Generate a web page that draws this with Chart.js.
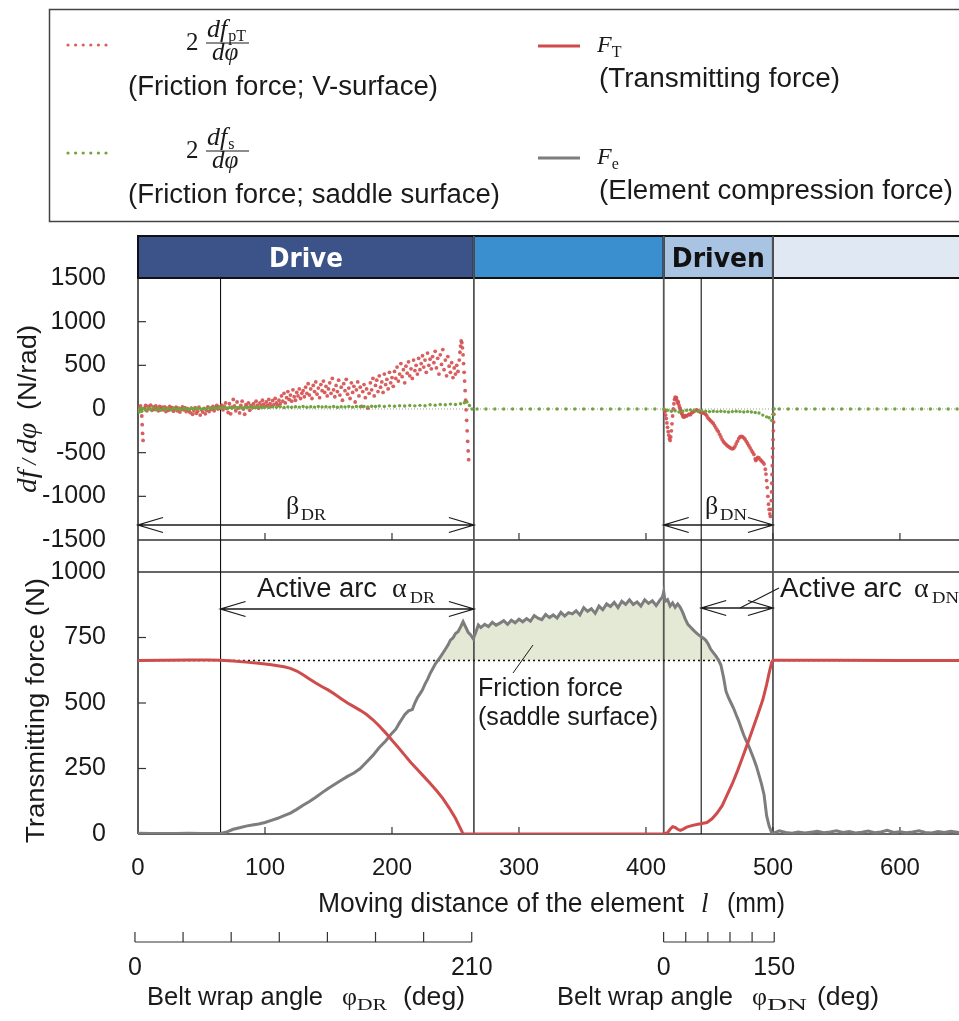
<!DOCTYPE html>
<html>
<head>
<meta charset="utf-8">
<script src="https://cdn.jsdelivr.net/npm/chart.js@4.4.1/dist/chart.umd.min.js"></script>
<style>
  html, body { margin: 0; padding: 0; background: #fff; overflow: hidden; }
  #wrap { position: relative; width: 959px; height: 1021px; }
</style>
</head>
<body>
<div id="wrap"><canvas id="chart" width="959" height="1021"></canvas></div>
<script>
// ---- data ----
const xTicks = [0, 100, 200, 300, 400, 500, 600];
const dfTicks = [-1500, -1000, -500, 0, 500, 1000, 1500];
const forceTicks = [0, 250, 500, 750, 1000];
const xMax = 646.5;

const phaseNames = ['Drive', '', 'Driven', ''];
const phaseBounds = [0, 264.5, 414, 500, xMax];
const markLines = [65, 264.5, 414, 443.5, 500];
const setLevel = 662;

// belt wrap angle scales (deg) and where they sit on the l axis (mm)
const wrapDR = { labels: ['0', '210'], steps: 7, from: -2.4, to: 262.8 };
const wrapDN = { labels: ['0', '150'], steps: 5, from: 413.9, to: 501 };

// transmitting force F_T (N)
const ftCurve = [
  [0,662],[20,663],[40,664],[55,664],[65,663],[75,660],[85,656],[95,652],[105,646],[115,638],
  [120,632],[125,622],[130,608],[135,592],[140,576],[145,562],[150,549],[155,533],[160,516],[165,500],
  [170,486],[175,472],[180,456],[185,436],[190,412],[195,386],[200,358],[205,330],[210,301],[215,272],
  [220,246],[225,220],[230,194],[235,166],[240,136],[245,100],[250,60],[253,30],[256,0],[300,0],
  [350,0],[414,0],[417,5],[419,18],[421,28],[423,25],[425,18],[427,14],[429,18],[432,26],
  [436,32],[440,36],[444,40],[448,44],[452,58],[456,80],[460,108],[464,150],[468,192],[472,240],
  [476,292],[480,345],[484,400],[488,455],[492,512],[495,570],[497,615],[499,655],[500,663],[550,663],
  [600,662],[646.5,662]
];

// element compression force F_e (N)
const feCurve = [
  [0,3],[10,2],[20,2],[30,2],[40,3],[50,2],[60,2],[65,2],[70,8],[75,18],
  [80,24],[85,30],[90,34],[95,38],[100,44],[105,52],[110,60],[115,70],[120,80],[125,94],
  [130,110],[135,124],[140,140],[145,158],[150,175],[155,190],[160,205],[165,220],[170,233],[175,250],
  [180,275],[185,300],[190,330],[195,355],[200,385],[203,400],[206,425],[208,440],[210,455],[213,470],
  [216,475],[218,500],[220,520],[222,535],[224,550],[226,572],[228,590],[230,612],[232,630],[234,648],
  [236,662],[238,675],[240,690],[242,705],[244,720],[246,740],[248,748],[250,765],[252,772],[254,790],
  [256,810],[258,790],[260,770],[262,760],[264,745],[266,770],[268,798],[270,788],[273,800],[276,792],
  [279,808],[282,797],[285,805],[288,814],[291,800],[294,816],[297,806],[300,820],[303,810],[306,822],
  [309,812],[312,834],[315,824],[318,818],[321,838],[324,826],[327,836],[330,824],[333,846],[336,832],
  [339,845],[342,840],[345,852],[348,836],[351,864],[354,850],[357,860],[360,842],[363,870],[366,856],
  [369,878],[372,868],[375,884],[378,864],[381,888],[384,876],[387,894],[390,876],[393,886],[396,870],
  [399,894],[402,880],[405,890],[408,872],[411,893],[413,905],[414,925],[415,888],[417,895],[419,870],
  [421,882],[423,865],[425,878],[427,865],[429,845],[431,820],[433,800],[435,790],[437,780],[439,770],
  [441,762],[443,755],[445,748],[447,740],[449,725],[451,705],[453,692],[455,680],[457,665],[459,645],
  [461,600],[463,545],[465,520],[467,500],[469,480],[471,455],[473,432],[475,405],[477,378],[479,355],
  [481,335],[483,310],[485,285],[487,258],[489,225],[491,190],[493,150],[495,70],[497,30],[499,5],
  [500,2],[505,12],[510,6],[515,3],[520,8],[525,4],[530,7],[535,10],[540,5],[545,8],
  [550,12],[555,6],[560,9],[565,4],[570,7],[575,11],[580,5],[585,8],[590,14],[595,6],
  [600,9],[605,5],[610,8],[615,12],[620,6],[625,4],[630,9],[635,6],[640,10],[646.5,6]
];

// 2 dfpT/dphi, friction force on the V-surface (N/rad), drive pulley
const vSurfDrive = [
  [0,20],[1,-10],[2,35],[3,-80],[3.3,-180],[3.6,-280],[4,-360],[5,10],[6,40],[7,-20],[8,30],[9,5],[10,45],
  [11,-15],[12,25],[13,-5],[14,35],[15,10],[16,-20],[17,30],[18,0],[19,20],[20,-10],
  [21,25],[22,-30],[23,10],[24,-15],[25,30],[26,-5],[27,15],[28,-25],[29,5],[30,20],
  [31,-20],[32,10],[33,-35],[34,0],[35,25],[36,-10],[37,15],[38,-30],[39,5],[40,-15],
  [41,-40],[42,10],[43,-60],[44,-20],[45,15],[46,-50],[47,-25],[48,20],[49,-70],[50,-10],
  [51,-35],[52,5],[53,-55],[54,-15],[55,25],[56,-30],[57,10],[58,-5],[59,30],[60,-20],
  [61,15],[62,40],[63,0],[64,25],[65,10],[66,45],[67,-10],[68,30],[69,70],[70,5],
  [71,-40],[72,60],[73,-55],[74,20],[75,110],[76,35],[77,-20],[78,80],[79,10],[80,-45],
  [81,40],[82,90],[83,0],[84,-60],[85,50],[86,25],[87,70],[88,-15],[89,40],[90,15],
  [91,60],[92,20],[93,90],[94,45],[95,10],[96,70],[97,35],[98,100],[99,55],[100,25],
  [101,80],[102,40],[103,110],[104,60],[105,30],[106,95],[107,50],[108,120],[109,70],[110,40],
  [111,100],[112,60],[113,150],[114,90],[115,180],[116,70],[117,130],[118,200],[119,110],[120,160],
  [121,90],[122,220],[123,140],[124,100],[125,190],[126,150],[127,230],[128,120],[129,180],[130,210],
  [131,140],[132,250],[133,180],[134,290],[135,160],[136,230],[137,120],[138,270],[139,200],[140,310],
  [141,170],[142,240],[143,130],[144,280],[145,210],[146,320],[147,190],[148,260],[149,150],[150,230],
  [151,300],[152,180],[153,350],[154,220],[155,140],[156,270],[157,200],[158,330],[159,160],[160,250],
  [161,100],[162,290],[163,210],[164,340],[165,170],[166,240],[167,120],[168,300],[169,190],[170,260],
  [171,80],[172,220],[173,310],[174,150],[175,250],[176,30],[177,200],[178,280],[179,130],[180,230],
  [181,10],[182,180],[183,300],[184,220],[185,350],[186,150],[187,270],[188,330],[189,200],[190,380],
  [191,250],[192,310],[193,190],[194,400],[195,280],[196,340],[197,230],[198,420],[199,300],[200,360],
  [201,260],[202,430],[203,350],[204,480],[205,320],[206,400],[207,520],[208,370],[209,450],[210,300],
  [211,490],[212,410],[213,540],[214,380],[215,460],[216,350],[217,560],[218,440],[219,500],[220,400],
  [221,580],[222,450],[223,520],[224,610],[225,480],[226,560],[227,420],[228,640],[229,500],[230,570],
  [231,460],[232,600],[233,530],[234,660],[235,470],[236,580],[237,400],[238,620],[239,510],[240,680],
  [241,450],[242,560],[243,380],[244,600],[245,490],[246,420],[247,530],[248,360],[249,470],[250,400],
  [251,500],[252,430],[253,560],[253.5,650],[254,720],[254.5,780],[255,760],[255.5,700],[256,620],
  [256.4,520],[256.8,420],[257.2,320],[257.6,210],[258,100],[258.4,-10],[258.8,-130],[259.2,-250],
  [259.6,-370],[260,-480],[260.4,-580]
];

// same quantity, driven pulley
const vSurfDriven = [
  [414.5,-10],[415,-30],[415.5,-70],[416,-110],[416.5,-160],[417,-210],[417.5,-260],[418,-300],
  [418.5,-340],[419,-360],[419.5,-320],[420,-250],[420.5,-170],[421,-80],[421.5,0],[422,60],
  [422.5,110],[423,137],[423.5,120],[424,130],[424.5,95],[425,70],[425.5,80],[426,45],[426.5,20],
  [427,0],[427.5,-20],[428,-45],[428.5,-60],[429,-80],[429.5,-92],[430,-85],[430.5,-90],[431,-75],
  [432,-80],[433,-70],[434,-60],[435,-65],[436,-45],[437,-35],[438,-25],[439,-15],[440,-10],
  [441,-20],[442,-30],[443,-35],[444,-40],[445,-45],[446,-50],[447,-60],[448,-80],[449,-105],
  [450,-120],[451,-135],[452,-150],[453,-165],[454,-190],[455,-215],[456,-240],[457,-260],[458,-290],
  [459,-320],[460,-350],[461,-375],[462,-390],[463,-405],[464,-420],[465,-430],[466,-440],[467,-450],
  [468,-455],[469,-450],[470,-430],[471,-400],[472,-370],[473,-340],[474,-320],[475,-315],[476,-318],
  [477,-330],[478,-345],[479,-370],[480,-395],[481,-420],[482,-445],[483,-470],[484,-495],[485,-520],
  [486,-570],[486.5,-590],[487,-575],[488,-555],[489,-560],[490,-580],[491,-595],[492,-610],[493,-630],
  [494,-690],[494.5,-745],[495,-820],[495.5,-900],[496,-1000],[496.5,-1090],[497,-1150],[497.5,-1200],
  [498,-1230],[498.5,-1150],[498.7,-1050],[498.9,-950],[499.1,-850],[499.3,-750],[499.5,-650],
  [499.7,-550],[499.9,-450],[500.1,-350],[500.3,-250],[500.5,-150],[500.7,-60]
];

// 2 dfs/dphi, friction force on the saddle surface (N/rad)
const saddle = [
  [0,-10],[1,-35],[2,10],[3,-25],[4,5],[6,-15],[8,10],[10,-5],[12,15],[14,-10],[16,5],[18,-15],
  [20,10],[22,-5],[24,5],[26,-10],[28,8],[30,-5],[32,5],[34,-8],[36,10],[38,0],[40,-5],[42,8],
  [44,-3],[46,5],[48,10],[50,-2],[52,8],[54,3],[56,12],[58,5],[60,15],[62,8],[64,18],[66,10],
  [68,20],[70,12],[72,18],[74,8],[76,20],[78,15],[80,22],[82,12],[84,20],[86,15],[88,22],[90,14],
  [92,20],[94,16],[96,24],[98,18],[100,22],[103,16],[106,24],[109,20],[112,26],[115,18],[118,24],
  [121,20],[124,26],[127,22],[130,28],[133,20],[136,25],[139,22],[142,28],[145,24],[148,26],[151,22],
  [154,28],[157,20],[160,26],[163,24],[166,30],[169,22],[172,28],[175,26],[178,30],[181,24],[184,32],
  [187,28],[190,34],[194,30],[198,36],[202,32],[206,38],[210,34],[214,40],[218,36],[222,42],[226,38],
  [230,48],[234,44],[238,52],[242,48],[246,56],[250,52],[254,60],[257,72],[259,80],[261,40],[263,0],
  [267,0],[274,0],[281,0],[288,0],[295,0],[302,0],[309,0],[316,0],[323,0],[330,0],[337,0],[344,0],
  [351,0],[358,0],[365,0],[372,0],[379,0],[386,0],[393,0],[400,0],[407,0],
  [414,0],[417,-15],[420,-25],[423,-20],[426,-35],[429,-25],[432,-15],[435,-10],[438,-15],[441,-25],
  [444,-20],[447,-25],[450,-30],[453,-25],[456,-30],[459,-25],[462,-30],[465,-35],[468,-30],[471,-25],
  [474,-30],[477,-35],[480,-30],[483,-35],[486,-40],[489,-45],[492,-70],[495,-90],[497,-100],[499,-130],
  [500,-60],[501,0],[505,0],[512,0],[519,0],[526,0],[533,0],[540,0],[547,0],[554,0],[561,0],[568,0],
  [575,0],[582,0],[589,0],[596,0],[603,0],[610,0],[617,0],[624,0],[631,0],[638,0],[645,0]
];

// ---- styles ----
const RED = '#cf4c4c';
const DOTRED = 'rgba(212,78,78,0.9)';
const GRAY = '#7d7d7d';
const GREEN = '#71a33e';
const FILL = '#e3e9d5';
const bandColors = ['#3b5388', '#3a8fcf', '#a9c4e2', '#dfe8f3'];
const SANS = '"Liberation Sans", Arial, sans-serif';
const SERIF = '"Liberation Serif", "Times New Roman", serif';
const INK = '#1a1a1a';

const pts = arr => arr.map(p => ({ x: p[0], y: p[1] }));

// ---- drawing helpers ----
function fitText(ctx, s, x, y, font, width, color, align) {
  ctx.save();
  ctx.font = font;
  ctx.fillStyle = color || INK;
  ctx.textAlign = align || 'left';
  ctx.textBaseline = 'alphabetic';
  const w = ctx.measureText(s).width;
  ctx.translate(x, y);
  ctx.scale(width / w, 1);
  ctx.fillText(s, 0, 0);
  ctx.restore();
}

function text(ctx, s, x, y, font, color, align) {
  ctx.save();
  ctx.font = font;
  ctx.fillStyle = color || INK;
  ctx.textAlign = align || 'left';
  ctx.textBaseline = 'alphabetic';
  ctx.fillText(s, x, y);
  const w = ctx.measureText(s).width;
  ctx.restore();
  return w;
}

// runs of mixed fonts along one baseline, stretched to a total width
function runs(ctx, parts, width) {
  let total = 0;
  for (const p of parts) {
    if (p.gap) { total += p.gap; continue; }
    ctx.font = p.f;
    total += ctx.measureText(p.t).width;
  }
  ctx.save();
  ctx.scale(width / total, 1);
  ctx.fillStyle = INK;
  ctx.textBaseline = 'alphabetic';
  let x = 0;
  for (const p of parts) {
    if (p.gap) { x += p.gap; continue; }
    ctx.font = p.f;
    ctx.fillText(p.t, x, p.dy || 0);
    x += ctx.measureText(p.t).width;
  }
  ctx.restore();
}

function line(ctx, x0, y0, x1, y1, color, w) {
  ctx.save();
  ctx.strokeStyle = color || INK;
  ctx.lineWidth = w || 1;
  ctx.beginPath();
  ctx.moveTo(x0, y0);
  ctx.lineTo(x1, y1);
  ctx.stroke();
  ctx.restore();
}

function dblArrow(ctx, x0, x1, y, heads) {
  const L = 25, H = 7.5;
  ctx.save();
  ctx.strokeStyle = INK;
  ctx.lineWidth = 1.3;
  ctx.beginPath();
  ctx.moveTo(x0, y); ctx.lineTo(x1, y);
  if (heads !== 'right') {
    ctx.moveTo(x0 + L, y - H); ctx.lineTo(x0, y); ctx.lineTo(x0 + L, y + H);
  }
  if (heads !== 'left') {
    ctx.moveTo(x1 - L, y - H); ctx.lineTo(x1, y); ctx.lineTo(x1 - L, y + H);
  }
  ctx.stroke();
  ctx.restore();
}

function drawLegend(ctx) {
  ctx.save();
  ctx.strokeStyle = '#444';
  ctx.lineWidth = 1.5;
  ctx.strokeRect(49.5, 9.5, 960, 212);
  ctx.restore();

  const left = [
    { dy: 0, sub: 'pT', color: DOTRED, label: '(Friction force; V-surface)', w: 310 },
    { dy: 108, sub: 's', color: GREEN, label: '(Friction force; saddle surface)', w: 372 }
  ];
  for (const r of left) {
    ctx.save();
    ctx.fillStyle = r.color;
    for (let i = 0; i < 6; i++) {
      ctx.beginPath();
      ctx.arc(68 + i * 7.6, 45 + r.dy, 1.6, 0, Math.PI * 2);
      ctx.fill();
    }
    ctx.restore();
    text(ctx, '2', 186, 50 + r.dy, '25px ' + SERIF);
    const wdf = text(ctx, 'df', 207, 37 + r.dy, 'italic 26px ' + SERIF);
    text(ctx, r.sub, 207 + wdf + 1, 41 + r.dy, '16px ' + SERIF);
    line(ctx, 206, 43 + r.dy, 249, 43 + r.dy, INK, 1);
    text(ctx, 'd\u03c6', 212, 60 + r.dy, 'italic 25px ' + SERIF);
    fitText(ctx, r.label, 128, 95 + r.dy, '27px ' + SANS, r.w);
  }

  const right = [
    { dy: 0, sub: 'T', color: RED, label: '(Transmitting force)', w: 241 },
    { dy: 112, sub: 'e', color: GRAY, label: '(Element compression force)', w: 354 }
  ];
  for (const r of right) {
    line(ctx, 538, 46 + r.dy, 580, 46 + r.dy, r.color, 3);
    const wf = text(ctx, 'F', 597, 52 + r.dy, 'italic 24px ' + SERIF);
    text(ctx, r.sub, 597 + wf, 57 + r.dy, '16px ' + SERIF);
    fitText(ctx, r.label, 599, 87 + r.dy, '27px ' + SANS, r.w);
  }
}

// ---- plugin: frame, bands, markers, annotations ----
const decor = {
  id: 'decor',
  beforeDatasetsDraw(chart) {
    const { ctx, chartArea: a, scales } = chart;
    const x = scales.x, yTop = scales.yTop, yBot = scales.yBot;
    const topEnd = yTop.bottom, botStart = yBot.top;

    // phase bands above the plot
    const bandTop = 236;
    for (let i = 0; i < phaseNames.length; i++) {
      const x0 = x.getPixelForValue(phaseBounds[i]);
      const x1 = x.getPixelForValue(phaseBounds[i + 1]);
      ctx.save();
      ctx.fillStyle = bandColors[i];
      ctx.fillRect(x0, bandTop, x1 - x0, a.top - bandTop);
      ctx.strokeStyle = '#111';
      ctx.lineWidth = 2;
      ctx.strokeRect(x0, bandTop, x1 - x0 + (i === phaseNames.length - 1 ? 5 : 0), a.top - bandTop);
      ctx.restore();
    }

    // frame
    line(ctx, a.left, a.top, a.left, a.bottom, '#222', 1.5);
    line(ctx, a.left, topEnd, a.right, topEnd, '#333', 1.3);
    line(ctx, a.left, botStart, a.right, botStart, '#333', 1.3);
    line(ctx, a.left, a.bottom, a.right, a.bottom, '#333', 1.5);

    // phase boundaries
    markLines.forEach((m, i) => {
      const px = x.getPixelForValue(m);
      const thin = (i === 0 || i === 3);
      line(ctx, px, thin ? a.top : bandTop, px, a.bottom, thin ? '#111' : '#555', thin ? 1.1 : 1.8);
    });

    // inside ticks
    dfTicks.slice(1, -1).forEach(v => {
      const py = yTop.getPixelForValue(v);
      line(ctx, a.left, py, a.left + 8, py, '#333', 1.2);
    });
    forceTicks.slice(1, -1).forEach(v => {
      const py = yBot.getPixelForValue(v);
      line(ctx, a.left, py, a.left + 8, py, '#333', 1.2);
    });
    xTicks.slice(1).forEach(v => {
      const px = x.getPixelForValue(v);
      line(ctx, px, topEnd, px, topEnd - 7, '#333', 1.2);
      line(ctx, px, a.bottom, px, a.bottom - 7, '#333', 1.2);
    });
  },
  afterDatasetsDraw(chart) {
    const { ctx, scales } = chart;
    const x = scales.x;
    const px = v => x.getPixelForValue(v);

    // band labels
    phaseNames.forEach((n, i) => {
      if (!n) return;
      const cx = (px(phaseBounds[i]) + px(phaseBounds[i + 1])) / 2;
      fitText(ctx, n, cx, 267, 'bold 26px "DejaVu Sans", ' + SANS, n === 'Drive' ? 74 : 93,
        i === 0 ? '#ffffff' : '#111111', 'center');
    });

    // beta arcs (top panel)
    dblArrow(ctx, px(0), px(264.5), 525);
    text(ctx, '\u03b2', 286, 514, '26px ' + SERIF);
    fitText(ctx, 'DR', 301, 520, '17px ' + SERIF, 25);
    dblArrow(ctx, px(414), px(500), 525);
    text(ctx, '\u03b2', 705, 514, '26px ' + SERIF);
    fitText(ctx, 'DN', 720, 520, '17px ' + SERIF, 27);

    // active arcs (bottom panel)
    dblArrow(ctx, px(65), px(264.5), 609);
    fitText(ctx, 'Active arc', 257, 597, '27px ' + SANS, 120);
    text(ctx, '\u03b1', 392, 597, '28px ' + SERIF);
    fitText(ctx, 'DR', 410, 603, '17px ' + SERIF, 25);
    dblArrow(ctx, px(443.5), px(500), 608);
    line(ctx, 740, 608, 779, 588, INK, 1.1);
    fitText(ctx, 'Active arc', 780, 597, '27px ' + SANS, 122);
    text(ctx, '\u03b1', 914, 597, '28px ' + SERIF);
    fitText(ctx, 'DN', 932, 603, '17px ' + SERIF, 27);

    // saddle-surface friction label
    line(ctx, 533, 645, 513, 673, INK, 1);
    fitText(ctx, 'Friction force', 478, 696, '25px ' + SANS, 145);
    fitText(ctx, '(saddle surface)', 478, 725, '25px ' + SANS, 180);

    // y axis titles
    ctx.save();
    ctx.translate(36, 493);
    ctx.rotate(-Math.PI / 2);
    runs(ctx, [
      { t: 'df', f: 'italic 28px ' + SERIF },
      { t: ' / ', f: 'italic 20px ' + SERIF },
      { t: 'd\u03c6', f: 'italic 28px ' + SERIF },
      { gap: 12 },
      { t: '(N/rad)', f: '26px ' + SANS }
    ], 168);
    ctx.restore();

    ctx.save();
    ctx.translate(44, 843);
    ctx.rotate(-Math.PI / 2);
    runs(ctx, [{ t: 'Transmitting force (N)', f: '26px ' + SANS }], 265);
    ctx.restore();

    // x axis title
    fitText(ctx, 'Moving distance of the element', 318, 912, '27px ' + SANS, 366);
    text(ctx, 'l', 701, 912, 'italic 27px ' + SERIF);
    fitText(ctx, '(mm)', 727, 912, '27px ' + SANS, 58);

    // belt wrap angle scales
    [[wrapDR, 'DR', 147, 30], [wrapDN, 'DN', 557, 40]].forEach(([w, sub, tx, subW]) => {
      const x0 = px(w.from), x1 = px(w.to);
      line(ctx, x0, 942, x1, 942, '#333', 1.2);
      for (let i = 0; i <= w.steps; i++) {
        const tx0 = x0 + (x1 - x0) * i / w.steps;
        line(ctx, tx0, 932, tx0, 942, '#333', 1.2);
      }
      text(ctx, w.labels[0], x0, 975, '25px ' + SANS, INK, 'center');
      text(ctx, w.labels[1], x1, 975, '25px ' + SANS, INK, 'center');
      fitText(ctx, 'Belt wrap angle', tx, 1005, '26px ' + SANS, 176);
      text(ctx, '\u03c6', tx + 195, 1005, '26px ' + SERIF);
      fitText(ctx, sub, tx + 210, 1010, '17px ' + SERIF, subW);
      fitText(ctx, '(deg)', tx + 256 + (sub === 'DN' ? 4 : 0), 1005, '26px ' + SANS, 62);
    });

    drawLegend(ctx);
  }
};

const yCommon = {
  type: 'linear',
  position: 'left',
  stack: 'panels',
  grid: { display: false },
  border: { display: false },
  afterFit: s => { s.width = 138; }
};

const yTickOpts = { font: { family: SANS, size: 25 }, color: INK, padding: 24, autoSkip: false,
  callback: v => String(v) };

new Chart(document.getElementById('chart'), {
  type: 'line',
  data: {
    datasets: [
      { label: 'F_T', data: pts(ftCurve), yAxisID: 'yBot', borderColor: RED, borderWidth: 3,
        pointRadius: 0, tension: 0, order: 0 },
      { label: 'F_e', data: pts(feCurve), yAxisID: 'yBot', borderColor: GRAY, borderWidth: 3,
        pointRadius: 0, tension: 0, order: 1,
        fill: { target: { value: setLevel }, above: FILL, below: 'rgba(0,0,0,0)' } },
      { label: 'set level', data: pts([[0, setLevel], [xMax, setLevel]]), yAxisID: 'yBot',
        borderColor: '#111', borderWidth: 1.6, borderDash: [2, 3], pointRadius: 0, order: 2 },
      { label: '2 dfs/dphi', data: pts(saddle), yAxisID: 'yTop', showLine: false,
        pointRadius: 1.7, pointBorderWidth: 0, pointBackgroundColor: GREEN, order: 3 },
      { label: '2 dfpT/dphi', data: pts(vSurfDrive.concat(vSurfDriven)), yAxisID: 'yTop', showLine: false,
        pointRadius: 1.9, pointBorderWidth: 0, pointBackgroundColor: DOTRED, order: 4 },
      { label: 'zero', data: pts([[0, 0], [xMax, 0]]), yAxisID: 'yTop', borderColor: '#9a9a9a',
        borderWidth: 1, borderDash: [1, 2], pointRadius: 0, order: 5 }
    ]
  },
  options: {
    responsive: false,
    animation: false,
    devicePixelRatio: 1,
    layout: { autoPadding: false, padding: { left: 0, right: 0, top: 278, bottom: 107 } },
    plugins: {
      legend: { display: false },
      tooltip: { enabled: false },
      filler: { drawTime: 'beforeDatasetsDraw' }
    },
    scales: {
      x: {
        type: 'linear',
        min: 0,
        max: xMax,
        grid: { display: false },
        border: { display: false },
        afterBuildTicks: s => { s.ticks = xTicks.map(v => ({ value: v })); },
        afterFit: s => { s.height = 80; s.paddingLeft = 0; s.paddingRight = 0; },
        ticks: { font: { family: SANS, size: 24 }, color: INK, padding: 12, maxRotation: 0,
          autoSkip: false, callback: v => String(v) }
      },
      yBot: Object.assign({}, yCommon, {
        min: 0, max: 1000, stackWeight: 262,
        afterBuildTicks: s => { s.ticks = forceTicks.map(v => ({ value: v })); },
        ticks: yTickOpts
      }),
      yGap: Object.assign({}, yCommon, {
        min: 0, max: 1, stackWeight: 32,
        ticks: { display: false }
      }),
      yTop: Object.assign({}, yCommon, {
        min: -1500, max: 1500, stackWeight: 262,
        afterBuildTicks: s => { s.ticks = dfTicks.map(v => ({ value: v })); },
        ticks: yTickOpts
      })
    }
  },
  plugins: [decor]
});
</script>
</body>
</html>
